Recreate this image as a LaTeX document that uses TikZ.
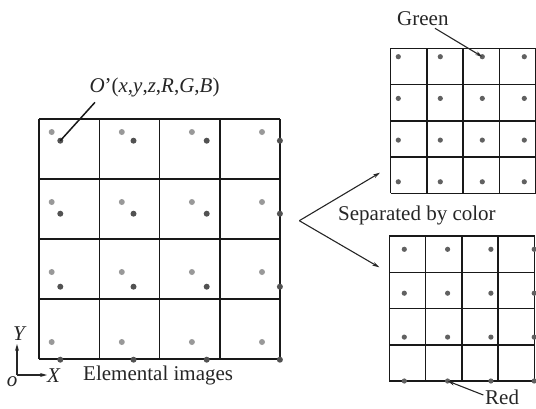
\documentclass[tikz,border=0pt]{standalone}
\usepackage{fontspec}
\setmainfont{Liberation Serif}
\usetikzlibrary{arrows.meta}
\begin{document}
\begin{tikzpicture}[x=1pt,y=-1pt,
  gridline/.style={line width=1.5pt,black!90},
  lightdot/.style={fill=black!40},
  darkdot/.style={fill=black!68},
  sepdot/.style={fill=black!62},
  lbl/.style={font=\fontsize{21}{25}\selectfont,inner sep=0pt,anchor=base west,text=black!85},
  ptr/.style={line width=1.1pt,black!85,-{Stealth[length=7pt,width=4pt]}},
]
\useasboundingbox (0,0) rectangle (536,408);
% left grid
\foreach \i in {0,...,4}{
  \draw[gridline] ({39+60.25*\i},119) -- ({39+60.25*\i},359);
  \draw[gridline] (39,{119+60*\i}) -- (280,{119+60*\i});
}
\foreach \i in {0,...,3}{
  \foreach \j in {0,...,3}{
    \fill[lightdot] ({51.7+70.1*\i},{132+70*\j}) circle (3);
    \fill[darkdot] ({60.3+73.2*\i},{140.7+73*\j}) circle (3);
    \coordinate (d\i\j) at ({60.3+73.2*\i},{140.7+73*\j});
  }
}
% top right grid (green)
\foreach \i in {0,...,4}{
  \draw[gridline] ({390.7+36.2*\i},48.3) -- ({390.7+36.2*\i},193.3);
  \draw[gridline] (390.7,{48.3+36.25*\i}) -- (535.5,{48.3+36.25*\i});
}
\foreach \i in {0,...,3}{
  \foreach \j in {0,...,3}{
    \fill[sepdot] ({398.3+42*\i},{56.7+41.7*\j}) circle (2.6);
    \coordinate (g\i\j) at ({398.3+42*\i},{56.7+41.7*\j});
  }
}
% bottom right grid (red)
\foreach \i in {0,...,4}{
  \draw[gridline] ({389.3+36.3*\i},236) -- ({389.3+36.3*\i},381.2);
  \draw[gridline] (389.3,{236+36.3*\i}) -- (534.5,{236+36.3*\i});
}
\foreach \i in {0,...,3}{
  \foreach \j in {0,...,3}{
    \ifnum\j<3 \ifnum\i<3 \else\fi\fi
  }
}
\foreach \i in {0,...,3}{
  \foreach \j in {0,...,3}{
    \fill[sepdot] ({404.3+43.3*\i},{249.3+43.9*\j}) circle (2.6);
    \coordinate (r\i\j) at ({404.3+43.3*\i},{249.3+43.9*\j});
  }
}
% labels
\node[lbl] (olab) at (89.3,92.7) {\textit{O}'(\textit{x},\textit{y},\textit{z},\textit{R},\textit{G},\textit{B})};
\node[lbl] (elab) at (83,380) {Elemental images};
\node[lbl] (slab) at (338,220) {Separated by color};
\node[lbl] (glab) at (397,25) {Green};
\node[lbl] (rlab) at (485,404.3) {Red};
% pointers
\coordinate (ostart) at (95,102.3);
\draw[line width=1.5pt,black!90] (ostart) -- (d00);
\coordinate (gstart) at (435,28.3);
\draw[ptr] (gstart) -- (g20);
\coordinate (rstart) at (483.3,395);
\draw[ptr] (rstart) -- (r13);
% separation
\coordinate (sv) at (299.3,220.7);
\coordinate (st) at (380,172.7);
\coordinate (sb) at (379.3,267.3);
\draw[ptr] (sv) -- (st);
\draw[ptr] (sv) -- (sb);
% axes
\coordinate (ax) at (17,375);
\coordinate (ay) at (17,344);
\coordinate (axx) at (47,375);
\draw[ptr,line width=1.3pt] (ax) -- (ay);
\draw[ptr,line width=1.3pt] (ax) -- (axx);
\node[lbl,anchor=base] (ylab) at (20,340) {\textit{Y}};
\node[lbl,anchor=base] (xlab) at (54,382) {\textit{X}};
\node[lbl,anchor=base] (olab2) at (12,386) {\textit{o}};
\end{tikzpicture}
\end{document}
